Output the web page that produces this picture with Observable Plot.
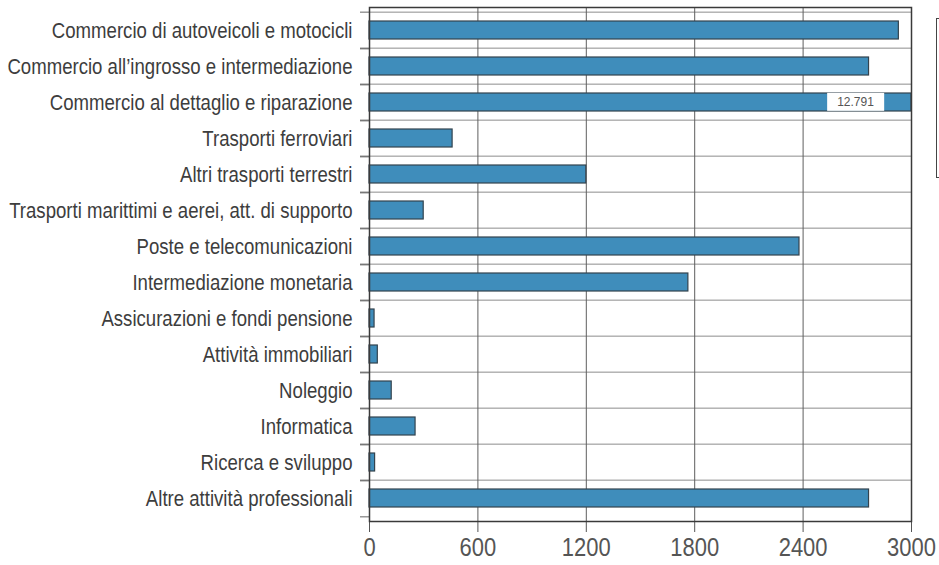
<!DOCTYPE html>
<html><head><meta charset="utf-8">
<script src="https://cdn.jsdelivr.net/npm/d3@7"></script>
<script src="https://cdn.jsdelivr.net/npm/@observablehq/plot@0.6"></script>
<style>
html,body{margin:0;padding:0;background:#fff;overflow:hidden;}
#wrap{position:relative;width:939px;height:565px;}
#edge{position:absolute;left:936px;top:18px;width:20px;height:160px;border:1.5px solid #444;box-sizing:border-box;}
</style></head><body><div id="wrap"><div id="edge"></div></div>
<script>
const categories = [
  "Commercio di autoveicoli e motocicli",
  "Commercio all\u2019ingrosso e intermediazione",
  "Commercio al dettaglio e riparazione",
  "Trasporti ferroviari",
  "Altri trasporti terrestri",
  "Trasporti marittimi e aerei, att. di supporto",
  "Poste e telecomunicazioni",
  "Intermediazione monetaria",
  "Assicurazioni e fondi pensione",
  "Attività immobiliari",
  "Noleggio",
  "Informatica",
  "Ricerca e sviluppo",
  "Altre attività professionali"
];
const values = [2930, 2765, 12791, 460, 1200, 300, 2380, 1765, 28, 46, 123, 255, 31, 2765];
const xTicks = [0, 600, 1200, 1800, 2400, 3000];
const xMax = 3000;

const data = categories.map((c, i) => ({cat: c, value: values[i]}));
const overflow = data.filter(d => d.value > xMax);
const itFormat = d3.formatLocale({decimal: ",", thousands: ".", grouping: [3], currency: ["", "\u20ac"]}).format(",");
const overflowLabels = overflow.map(d => itFormat(d.value));

const W = 939, H = 565, mT = 7, mB = 44, mL = 369, mR = 28;
const bw = (H - mT - mB) / categories.length;
const font = "'Liberation Sans',Arial,sans-serif";
const squeeze = 0.845;

const plot = Plot.plot({
  width: W, height: H,
  marginTop: mT, marginBottom: mB, marginLeft: mL, marginRight: mR,
  style: {fontFamily: font, background: "transparent", overflow: "visible"},
  x: {domain: [0, xMax], clamp: true},
  y: {domain: categories, padding: 0},
  marks: [
    Plot.ruleY(categories, {y: d => d, dy: -bw / 2, stroke: "#8c8c8c", strokeWidth: 1}),
    Plot.ruleX(xTicks.slice(1, -1), {stroke: "#5e5e5e", strokeWidth: 1}),
    Plot.barX(data, {x: "value", y: "cat", fill: "#3f8dbb", stroke: "#33434e", strokeWidth: 1.2, insetTop: 9, insetBottom: 9}),
    Plot.axisY({tickSize: 0, tickPadding: 17, fontSize: 22, fill: "#3d3d3d", label: null}),
    Plot.axisY({text: null, tickSize: 9, dy: -bw / 2, stroke: "#666", label: null}),
    Plot.axisY({text: null, tickSize: 9, dy: bw / 2, stroke: "#666", label: null}),
    Plot.axisX({ticks: xTicks, tickFormat: d => String(d), tickSize: 11, tickPadding: 5, fontSize: 26, fill: "#555", stroke: "#555", label: null}),
    Plot.frame({stroke: "#3a3a3a", strokeWidth: 1.5}),
    Plot.text(overflow, {x: "value", y: "cat", text: d => itFormat(d.value), dx: -56, fontSize: 12, fill: "#555"})
  ]
});
document.getElementById("wrap").prepend(plot);

// condensed look for axis labels
plot.querySelectorAll('g[aria-label$="tick label"] text').forEach(t => {
  const len = t.getComputedTextLength();
  t.setAttribute("textLength", len * squeeze);
  t.setAttribute("lengthAdjust", "spacingAndGlyphs");
});

// white label box behind the truncated-bar value
plot.querySelectorAll('text').forEach(t => {
  if (!overflowLabels.includes(t.textContent)) return;
  const b = t.getBBox();
  const r = document.createElementNS("http://www.w3.org/2000/svg", "rect");
  r.setAttribute("x", b.x - 10);
  r.setAttribute("y", b.y - 2.5);
  r.setAttribute("width", b.width + 20);
  r.setAttribute("height", b.height + 4);
  r.setAttribute("fill", "#fff");
  const tr = t.getAttribute("transform");
  if (tr) r.setAttribute("transform", tr);
  t.parentNode.insertBefore(r, t);
});
</script>
</body></html>
